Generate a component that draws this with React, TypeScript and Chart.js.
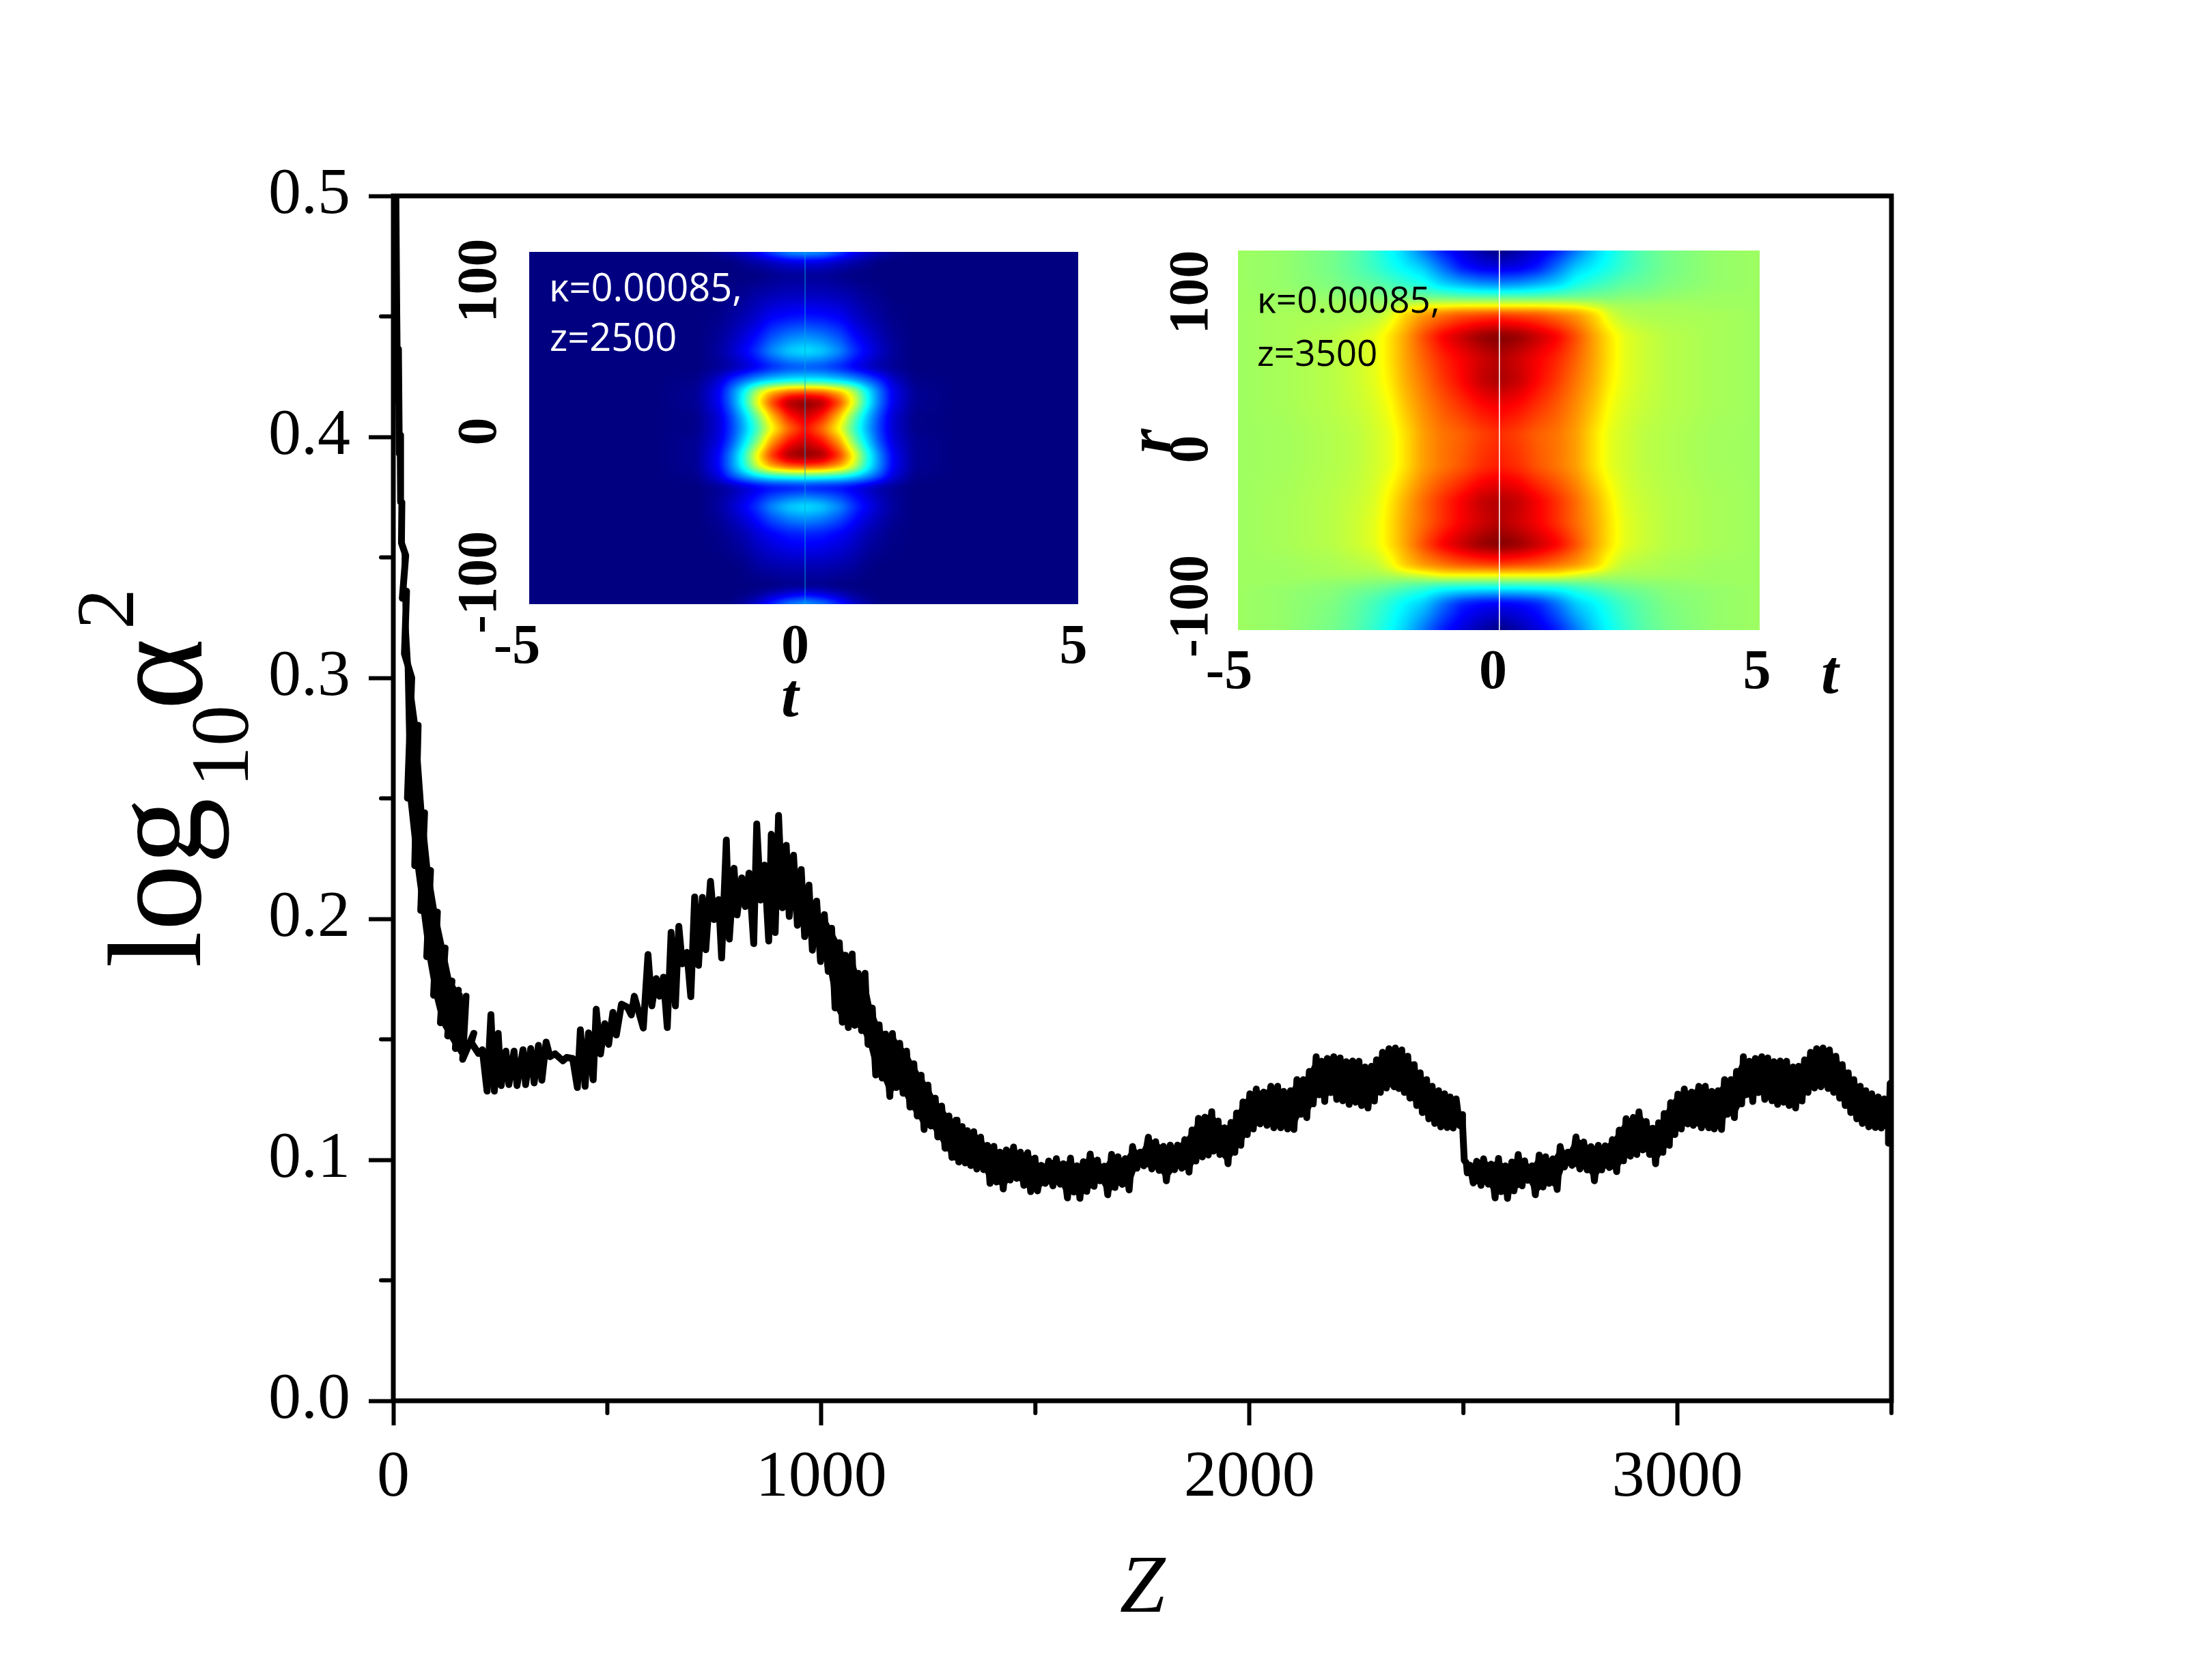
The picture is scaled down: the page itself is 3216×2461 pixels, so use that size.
import { useEffect, useRef } from "react"
import { Chart, registerables } from "chart.js"

Chart.register(...registerables)

const WIDTH = 3216
const HEIGHT = 2461
const SERIF = "'Liberation Serif'"

// main axes
const zTicks = [0, 1000, 2000, 3000]
const zMinorTicks = [500, 1500, 2500, 3500]
const alphaTicks = [0, 0.1, 0.2, 0.3, 0.4, 0.5]
const alphaMinorTicks = [0.05, 0.15, 0.25, 0.35, 0.45]

// z < 1320: the oscillation can be followed peak by peak
const earlyZ = [
  6, 8, 10, 12, 14, 16, 17, 20, 19, 29, 21, 31, 26, 43, 33, 58, 50, 73, 64, 87, 78, 103, 94, 121, 110, 137, 127, 152,
  145, 170, 162, 188, 182, 199, 208, 219, 228, 236, 245, 252, 263, 270, 282, 289, 303, 309, 321, 329, 339, 347, 357,
  366, 378, 396, 405, 414, 419, 430, 437, 448, 456, 467, 474, 484, 494, 503, 513, 521, 533, 547, 556, 563, 584, 595,
  604, 614, 622, 631, 640, 649, 659, 667, 675, 686, 695, 704, 713, 722, 730, 741, 749, 760, 767, 778, 785, 796, 803,
  814, 822, 831, 842, 849, 858, 867, 877, 883, 892, 900, 909, 918, 925, 935, 944, 953, 961, 971, 979, 989, 998, 1007,
  1016, 1024, 1032, 1042, 1049, 1056, 1063, 1072, 1078, 1086, 1094, 1102, 1109, 1119, 1127, 1135, 1142, 1150, 1160,
  1166, 1175, 1183, 1191, 1199, 1207, 1216, 1224, 1233, 1240, 1249, 1256, 1266, 1272, 1281, 1289, 1298, 1305, 1314,
]
const earlyAlpha = [
  0.5, 0.452, 0.415, 0.4365, 0.393, 0.4008, 0.373, 0.3728, 0.356, 0.3508, 0.333, 0.336, 0.31, 0.3, 0.2501, 0.2803,
  0.2221, 0.244, 0.2035, 0.2201, 0.1843, 0.2028, 0.1683, 0.1879, 0.1569, 0.1742, 0.1514, 0.1704, 0.1462, 0.1679,
  0.1417, 0.1525, 0.1487, 0.1441, 0.1457, 0.1285, 0.1603, 0.1285, 0.1525, 0.1308, 0.1451, 0.1312, 0.1451, 0.1308,
  0.1457, 0.1312, 0.1462, 0.1319, 0.1475, 0.133, 0.1489, 0.1428, 0.144, 0.1411, 0.1425, 0.1422, 0.1421, 0.13, 0.154,
  0.1305, 0.1527, 0.1332, 0.1625, 0.1439, 0.1565, 0.1479, 0.1612, 0.1518, 0.1646, 0.1633, 0.1601, 0.1679, 0.1547,
  0.1852, 0.1639, 0.1752, 0.1679, 0.1758, 0.1549, 0.1944, 0.1639, 0.1969, 0.1813, 0.1861, 0.1677, 0.2091, 0.1807,
  0.2089, 0.1872, 0.2156, 0.1997, 0.208, 0.1838, 0.2327, 0.1916, 0.221, 0.2016, 0.217, 0.2051, 0.219, 0.1897, 0.2394,
  0.2078, 0.2223, 0.1908, 0.2351, 0.1943, 0.2429, 0.2046, 0.2305, 0.201, 0.2264, 0.1973, 0.2205, 0.1926, 0.214, 0.187,
  0.2074, 0.1823, 0.2018, 0.1782, 0.1961, 0.163, 0.1901, 0.1571, 0.1849, 0.1549, 0.1854, 0.1558, 0.1774, 0.1536,
  0.1774, 0.1479, 0.163, 0.1352, 0.156, 0.1339, 0.1522, 0.1263, 0.1524, 0.13, 0.1484, 0.1276, 0.1451, 0.1219, 0.1399,
  0.1182, 0.1351, 0.1126, 0.131, 0.114, 0.1256, 0.1095, 0.1223, 0.1048, 0.1182, 0.101, 0.1164,
]
// stretches of the early curve where the reference is solid black between the tips
const solidRanges = [
  [8, 170],
  [998, 1314],
]

// z > 1314: too dense to separate, upper and lower edge of the band
const upperZ = [
  1314, 1317, 1329, 1341, 1356, 1372, 1388, 1403, 1417, 1432, 1449, 1465, 1482, 1499, 1514, 1531, 1549, 1565, 1582,
  1597, 1612, 1628, 1645, 1661, 1678, 1693, 1710, 1727, 1745, 1764, 1781, 1799, 1815, 1832, 1849, 1866, 1881, 1896,
  1912, 1927, 1942, 1957, 1970, 1985, 2001, 2016, 2033, 2050, 2066, 2080, 2096, 2111, 2126, 2140, 2156, 2169, 2182,
  2197, 2212, 2226, 2241, 2256, 2270, 2285, 2297, 2311, 2326, 2341, 2356, 2370, 2385, 2399, 2414, 2427, 2442, 2456,
  2469, 2483, 2497, 2507, 2516, 2531, 2547, 2565, 2582, 2598, 2613, 2628, 2643, 2660, 2677, 2692, 2709, 2726, 2744,
  2763, 2781, 2798, 2815, 2831, 2848, 2864, 2880, 2897, 2910, 2927, 2942, 2956, 2969, 2984, 3001, 3016, 3033, 3050,
  3065, 3080, 3095, 3110, 3125, 3138, 3154, 3168, 3182, 3197, 3211, 3225, 3240, 3255, 3270, 3283, 3297, 3311, 3325,
  3340, 3355, 3370, 3385, 3399, 3412, 3427, 3440, 3454, 3469, 3483, 3493, 3497, 3500,
]
const upperAlpha = [
  0.1164, 0.1164, 0.1138, 0.1121, 0.1117, 0.1094, 0.106, 0.1056, 0.1032, 0.1041, 0.1053, 0.1032, 0.103, 0.1007, 0.0977,
  0.0995, 0.1005, 0.0984, 0.1007, 0.0975, 0.0992, 0.1024, 0.0999, 0.0974, 0.1023, 0.1013, 0.1005, 0.1055, 0.1032,
  0.1094, 0.1075, 0.1056, 0.1061, 0.1061, 0.1084, 0.1124, 0.1172, 0.1177, 0.12, 0.1161, 0.1133, 0.1155, 0.1194, 0.124,
  0.1274, 0.1294, 0.1281, 0.1305, 0.1305, 0.1284, 0.1287, 0.1333, 0.1333, 0.1367, 0.1428, 0.1409, 0.1421, 0.1428,
  0.1423, 0.1407, 0.141, 0.1409, 0.1385, 0.1388, 0.1415, 0.1446, 0.1461, 0.1464, 0.1456, 0.143, 0.1395, 0.1361, 0.1333,
  0.1305, 0.1287, 0.1274, 0.1261, 0.1253, 0.1188, 0.0987, 0.0977, 0.0994, 0.1004, 0.0982, 0.1006, 0.0975, 0.0991,
  0.1022, 0.0996, 0.0975, 0.102, 0.1013, 0.1004, 0.1055, 0.1032, 0.1095, 0.1074, 0.1055, 0.106, 0.1058, 0.1084, 0.1123,
  0.1171, 0.1176, 0.1199, 0.1159, 0.1131, 0.1154, 0.1192, 0.1237, 0.1273, 0.1294, 0.1281, 0.1305, 0.1305, 0.1284,
  0.1287, 0.1333, 0.1333, 0.1367, 0.1428, 0.1409, 0.1421, 0.1428, 0.1423, 0.1407, 0.141, 0.1409, 0.1385, 0.1388, 0.1415,
  0.1446, 0.1461, 0.1464, 0.1456, 0.143, 0.1395, 0.1361, 0.1333, 0.1305, 0.1287, 0.1274, 0.1261, 0.1253, 0.1241, 0.1317,
  0.1317,
]
const lowerZ = [
  1314, 1321, 1336, 1349, 1363, 1379, 1394, 1409, 1425, 1441, 1456, 1473, 1489, 1505, 1523, 1541, 1558, 1575, 1590,
  1604, 1620, 1637, 1651, 1669, 1686, 1703, 1719, 1737, 1753, 1772, 1789, 1806, 1825, 1842, 1859, 1875, 1890, 1904,
  1916, 1931, 1950, 1966, 1980, 1995, 2009, 2025, 2041, 2057, 2073, 2089, 2104, 2120, 2134, 2149, 2163, 2176, 2190,
  2204, 2218, 2233, 2248, 2262, 2277, 2292, 2306, 2320, 2338, 2349, 2362, 2375, 2391, 2404, 2419, 2433, 2447, 2462,
  2476, 2491, 2498, 2502, 2509, 2523, 2541, 2558, 2574, 2588, 2603, 2618, 2637, 2650, 2668, 2686, 2700, 2719, 2736,
  2754, 2772, 2789, 2806, 2823, 2841, 2858, 2874, 2890, 2905, 2919, 2935, 2949, 2966, 2981, 2994, 3009, 3024, 3037,
  3056, 3073, 3086, 3103, 3117, 3133, 3150, 3160, 3176, 3189, 3204, 3221, 3234, 3248, 3261, 3276, 3291, 3305, 3320,
  3335, 3352, 3365, 3379, 3392, 3405, 3419, 3432, 3447, 3462, 3476, 3486, 3493, 3500,
]
const lowerAlpha = [
  0.101, 0.0991, 0.0987, 0.0976, 0.0962, 0.0959, 0.0902, 0.0908, 0.0879, 0.0916, 0.0923, 0.0894, 0.0868, 0.0871, 0.0902,
  0.0892, 0.0899, 0.0842, 0.0866, 0.084, 0.0869, 0.089, 0.0913, 0.0855, 0.0885, 0.0898, 0.0875, 0.0965, 0.0975, 0.0962,
  0.0956, 0.0913, 0.0959, 0.0965, 0.0949, 0.0995, 0.1012, 0.102, 0.1036, 0.1022, 0.0984, 0.1031, 0.106, 0.1105, 0.1128,
  0.1149, 0.1143, 0.1133, 0.1133, 0.1128, 0.1126, 0.1189, 0.1175, 0.1232, 0.127, 0.1242, 0.1279, 0.1251, 0.1245, 0.123,
  0.1239, 0.1225, 0.1215, 0.1244, 0.128, 0.1298, 0.1303, 0.1296, 0.128, 0.1256, 0.1225, 0.1196, 0.117, 0.1151, 0.1137,
  0.1134, 0.1132, 0.1142, 0.1145, 0.0998, 0.0946, 0.0904, 0.0894, 0.0899, 0.0842, 0.0868, 0.084, 0.0871, 0.0892, 0.0915,
  0.0855, 0.0887, 0.0902, 0.0877, 0.097, 0.0977, 0.0962, 0.0958, 0.0913, 0.0958, 0.0968, 0.0951, 0.0996, 0.1015, 0.1022,
  0.1041, 0.1022, 0.0984, 0.1031, 0.106, 0.1105, 0.1128, 0.1149, 0.1143, 0.1133, 0.1133, 0.1128, 0.1126, 0.1189, 0.1175,
  0.1232, 0.127, 0.1242, 0.1279, 0.1251, 0.1245, 0.123, 0.1239, 0.1225, 0.1215, 0.1244, 0.128, 0.1298, 0.1303, 0.1296,
  0.128, 0.1256, 0.1225, 0.1196, 0.117, 0.1151, 0.1137, 0.1134, 0.1132, 0.1142, 0.1069, 0.1069,
]

// insets: colour values 0..1 on the jet scale, mirrored around the centre line
const insetTTicks = [-5, 0, 5]
const insetRTicks = [100, 0, -100]

const leftOffsets = [0, 0.31, 0.63, 0.86, 1.1, 1.33, 1.57, 1.96, 2.75, 4.94]
const leftRows = [
  119.2, 112.7, 103.9, 90.7, 75.4, 53.4, 42.5, 33.7, 27.1, 19.5, 9.6, 1.9, -5.8, -15.7, -23.3, -29.9, -36.5, -49.6,
  -67.2, -89.1, -102.3, -108.9, -114.5,
]
const leftCells = [
  [0.3, 0.28, 0.2, 0.13, 0.08, 0.05, 0.02, 0, 0, 0],
  [0.1, 0.09, 0.06, 0.04, 0.02, 0, 0, 0, 0, 0],
  [0.02, 0.02, 0.01, 0, 0, 0, 0, 0, 0, 0],
  [0.06, 0.06, 0.05, 0.04, 0.02, 0.01, 0, 0, 0, 0],
  [0.15, 0.14, 0.12, 0.08, 0.05, 0.03, 0.01, 0, 0, 0],
  [0.36, 0.33, 0.26, 0.18, 0.12, 0.07, 0.03, 0, 0, 0],
  [0.2, 0.19, 0.15, 0.11, 0.07, 0.04, 0.02, 0, 0, 0],
  [0.38, 0.37, 0.34, 0.3, 0.24, 0.17, 0.08, 0.01, 0, 0],
  [0.78, 0.76, 0.68, 0.56, 0.38, 0.24, 0.11, 0.02, 0, 0],
  [1, 0.96, 0.8, 0.62, 0.4, 0.24, 0.11, 0.02, 0, 0],
  [0.92, 0.84, 0.66, 0.48, 0.32, 0.19, 0.08, 0.01, 0, 0],
  [0.86, 0.76, 0.6, 0.44, 0.3, 0.18, 0.08, 0.01, 0, 0],
  [0.92, 0.85, 0.7, 0.5, 0.34, 0.2, 0.09, 0.02, 0, 0],
  [1, 0.97, 0.82, 0.64, 0.42, 0.26, 0.12, 0.02, 0, 0],
  [0.8, 0.78, 0.7, 0.58, 0.4, 0.26, 0.12, 0.02, 0, 0],
  [0.4, 0.39, 0.37, 0.33, 0.27, 0.19, 0.09, 0.01, 0, 0],
  [0.14, 0.13, 0.12, 0.1, 0.07, 0.04, 0.02, 0, 0, 0],
  [0.36, 0.33, 0.26, 0.18, 0.12, 0.07, 0.03, 0, 0, 0],
  [0.16, 0.15, 0.12, 0.09, 0.05, 0.03, 0.01, 0, 0, 0],
  [0.05, 0.05, 0.04, 0.03, 0.01, 0, 0, 0, 0, 0],
  [0.01, 0.01, 0, 0, 0, 0, 0, 0, 0, 0],
  [0.15, 0.12, 0.07, 0.03, 0.01, 0, 0, 0, 0, 0],
  [0.3, 0.26, 0.17, 0.09, 0.04, 0.01, 0, 0, 0, 0],
]

const rightOffsets = [0, 0.36, 0.73, 1.09, 1.45, 1.81, 2.09, 2.36, 2.72, 3.18, 4.08, 4.95]
const rightRows = [
  126.5, 115.3, 104.8, 96.4, 91.1, 87, 72.2, 58.4, 43.7, 28.9, 10, -11.1, -32.2, -47, -60.7, -74.3, -79.6, -83.8,
  -89.1, -97.5, -115.2,
]
const rightCells = [
  [0, 0.04, 0.09, 0.15, 0.24, 0.33, 0.38, 0.42, 0.46, 0.49, 0.52, 0.53],
  [0.1, 0.11, 0.15, 0.24, 0.33, 0.37, 0.4, 0.43, 0.46, 0.49, 0.52, 0.53],
  [0.27, 0.28, 0.31, 0.34, 0.4, 0.43, 0.45, 0.47, 0.48, 0.5, 0.52, 0.53],
  [0.48, 0.48, 0.48, 0.49, 0.49, 0.5, 0.5, 0.51, 0.51, 0.52, 0.53, 0.53],
  [0.64, 0.64, 0.64, 0.63, 0.62, 0.58, 0.55, 0.54, 0.54, 0.54, 0.53, 0.53],
  [0.8, 0.79, 0.78, 0.75, 0.72, 0.66, 0.58, 0.55, 0.54, 0.54, 0.54, 0.53],
  [1, 0.98, 0.93, 0.88, 0.8, 0.71, 0.65, 0.6, 0.575, 0.555, 0.54, 0.53],
  [0.95, 0.92, 0.88, 0.84, 0.78, 0.71, 0.65, 0.6, 0.575, 0.555, 0.54, 0.53],
  [0.96, 0.93, 0.87, 0.82, 0.76, 0.7, 0.64, 0.6, 0.575, 0.555, 0.54, 0.53],
  [0.89, 0.87, 0.83, 0.79, 0.74, 0.68, 0.62, 0.59, 0.57, 0.555, 0.54, 0.53],
  [0.83, 0.81, 0.78, 0.76, 0.72, 0.65, 0.6, 0.58, 0.56, 0.55, 0.535, 0.53],
  [0.85, 0.83, 0.79, 0.76, 0.72, 0.65, 0.6, 0.58, 0.56, 0.55, 0.535, 0.53],
  [0.95, 0.93, 0.88, 0.83, 0.77, 0.7, 0.64, 0.59, 0.57, 0.555, 0.54, 0.53],
  [0.95, 0.92, 0.88, 0.83, 0.77, 0.71, 0.65, 0.6, 0.575, 0.555, 0.54, 0.53],
  [1, 0.98, 0.93, 0.88, 0.8, 0.71, 0.65, 0.6, 0.575, 0.555, 0.54, 0.53],
  [0.8, 0.79, 0.78, 0.75, 0.72, 0.67, 0.6, 0.56, 0.55, 0.54, 0.53, 0.53],
  [0.64, 0.64, 0.64, 0.64, 0.6, 0.57, 0.55, 0.54, 0.54, 0.54, 0.53, 0.53],
  [0.5, 0.5, 0.5, 0.5, 0.5, 0.5, 0.51, 0.51, 0.52, 0.52, 0.53, 0.53],
  [0.35, 0.35, 0.36, 0.37, 0.41, 0.44, 0.46, 0.48, 0.49, 0.51, 0.52, 0.53],
  [0.12, 0.13, 0.16, 0.24, 0.33, 0.37, 0.41, 0.44, 0.47, 0.5, 0.52, 0.53],
  [0, 0.04, 0.09, 0.15, 0.24, 0.33, 0.38, 0.42, 0.46, 0.49, 0.52, 0.53],
]

const zip = (xs: number[], ys: number[]) => xs.map((x, i) => ({ x, y: ys[i] }))

type Label = { text: string; x: number; y: number; font: string; color?: string; rotate?: boolean }

// free text: axis names and the notes inside the insets
const textPlugin = {
  id: "freeText",
  afterDraw(chart: any, _args: any, opts: any) {
    const ctx = chart.ctx
    for (const l of (opts.labels || []) as Label[]) {
      ctx.save()
      ctx.translate(l.x, l.y)
      if (l.rotate) ctx.rotate(-Math.PI / 2)
      ctx.font = l.font
      ctx.fillStyle = l.color || "#000"
      ctx.textAlign = "left"
      ctx.textBaseline = "alphabetic"
      ctx.fillText(l.text, 0, 0)
      ctx.restore()
    }
  },
}

const framePlugin = {
  id: "frame",
  afterDatasetsDraw(chart: any) {
    const { ctx, chartArea: a, scales } = chart
    ctx.save()
    ctx.strokeStyle = "#000"
    ctx.lineWidth = 7
    ctx.strokeRect(a.left, a.top, a.right - a.left, a.bottom - a.top)
    ctx.lineWidth = 6
    ctx.lineCap = "round"
    ctx.beginPath()
    for (const z of zMinorTicks) {
      const x = scales.x.getPixelForValue(z)
      ctx.moveTo(x, a.bottom)
      ctx.lineTo(x, a.bottom + 18)
    }
    for (const v of alphaMinorTicks) {
      const y = scales.y.getPixelForValue(v)
      ctx.moveTo(a.left, y)
      ctx.lineTo(a.left - 18, y)
    }
    ctx.stroke()
    ctx.restore()
  },
}

function jet(v: number) {
  const c = (x: number) => Math.max(0, Math.min(1, x)) * 255
  return [c(1.5 - Math.abs(4 * v - 3)), c(1.5 - Math.abs(4 * v - 2)), c(1.5 - Math.abs(4 * v - 1))]
}

function locate(axis: number[], v: number) {
  const desc = axis[0] > axis[axis.length - 1]
  for (let i = 0; i < axis.length - 1; i++) {
    const a = axis[i]
    const b = axis[i + 1]
    if (desc ? v >= b : v <= b) return [i, Math.max(0, Math.min(1, (v - a) / (b - a)))]
  }
  return [axis.length - 2, 1]
}

// soften the creases of the coarse table
function blur(field: Float32Array, w: number, h: number, radius: number) {
  const tmp = new Float32Array(field.length)
  for (let y = 0; y < h; y++)
    for (let x = 0; x < w; x++) {
      let sum = 0
      for (let k = -radius; k <= radius; k++) sum += field[y * w + Math.max(0, Math.min(w - 1, x + k))]
      tmp[y * w + x] = sum / (2 * radius + 1)
    }
  for (let y = 0; y < h; y++)
    for (let x = 0; x < w; x++) {
      let sum = 0
      for (let k = -radius; k <= radius; k++) sum += tmp[Math.max(0, Math.min(h - 1, y + k)) * w + x]
      field[y * w + x] = sum / (2 * radius + 1)
    }
}

const heatPlugin = {
  id: "heat",
  beforeDatasetsDraw(chart: any, _args: any, opts: any) {
    const { ctx, scales } = chart
    const { extent, center, offsets, rows, cells, lineColor } = opts
    const x0 = Math.round(scales.x.getPixelForValue(extent[0]))
    const x1 = Math.round(scales.x.getPixelForValue(extent[1]))
    const y0 = Math.round(scales.y.getPixelForValue(extent[2]))
    const y1 = Math.round(scales.y.getPixelForValue(extent[3]))
    const w = x1 - x0
    const h = y1 - y0
    const field = new Float32Array(w * h)
    for (let py = 0; py < h; py++) {
      const [ri, rf] = locate(rows, scales.y.getValueForPixel(y0 + py))
      for (let px = 0; px < w; px++) {
        const t = Math.abs(scales.x.getValueForPixel(x0 + px) - center)
        const [ci, cf] = locate(offsets, t)
        const top = cells[ri][ci] * (1 - cf) + cells[ri][ci + 1] * cf
        const bot = cells[ri + 1][ci] * (1 - cf) + cells[ri + 1][ci + 1] * cf
        field[py * w + px] = top * (1 - rf) + bot * rf
      }
    }
    blur(field, w, h, 5)
    blur(field, w, h, 4)
    const img = ctx.createImageData(w, h)
    for (let i = 0; i < field.length; i++) {
      const [r, g, b] = jet(field[i])
      img.data[i * 4] = r
      img.data[i * 4 + 1] = g
      img.data[i * 4 + 2] = b
      img.data[i * 4 + 3] = 255
    }
    ctx.putImageData(img, x0, y0)
    const cx = scales.x.getPixelForValue(center)
    ctx.save()
    ctx.strokeStyle = lineColor
    ctx.lineWidth = 1.5
    ctx.beginPath()
    ctx.moveTo(cx, y0)
    ctx.lineTo(cx, y1)
    ctx.stroke()
    ctx.restore()
  },
}

type InsetSetup = {
  left: number
  right: number
  top: number
  bottom: number
  yPadding: number
  xPadding: number
  heat: any
  labels: Label[]
}

function insetConfig(s: InsetSetup): any {
  const tickFont = { family: SERIF, size: 82, weight: "bold" }
  return {
    type: "scatter",
    data: { datasets: [{ data: [], showLine: false }] },
    plugins: [heatPlugin, textPlugin],
    options: {
      animation: false,
      responsive: false,
      devicePixelRatio: 1,
      layout: { padding: { left: 0, top: s.top, right: WIDTH - s.right, bottom: 0 } },
      plugins: {
        legend: { display: false },
        tooltip: { enabled: false },
        heat: s.heat,
        freeText: { labels: s.labels },
      },
      scales: {
        x: {
          type: "linear",
          min: -5,
          max: 5,
          afterBuildTicks: (scale: any) => {
            scale.ticks = insetTTicks.map((value) => ({ value }))
          },
          afterFit: (scale: any) => {
            scale.height = HEIGHT - s.bottom
          },
          grid: { display: false, drawTicks: false },
          border: { display: false },
          ticks: { color: "#000", font: tickFont, padding: s.xPadding, autoSkip: false, maxRotation: 0 },
        },
        y: {
          type: "linear",
          min: -100,
          max: 100,
          afterBuildTicks: (scale: any) => {
            scale.ticks = insetRTicks.map((value) => ({ value }))
          },
          afterFit: (scale: any) => {
            scale.width = s.left
          },
          grid: { display: false, drawTicks: false },
          border: { display: false },
          ticks: {
            color: "#000",
            font: tickFont,
            padding: s.yPadding,
            autoSkip: false,
            minRotation: 90,
            maxRotation: 90,
            crossAlign: "center",
          },
        },
      },
    },
  }
}

const canvasStyle: any = { position: "absolute", left: 0, top: 0, display: "block" }

export default function App() {
  const mainRef = useRef<HTMLCanvasElement>(null)
  const leftRef = useRef<HTMLCanvasElement>(null)
  const rightRef = useRef<HTMLCanvasElement>(null)

  useEffect(() => {
    document.body.style.margin = "0"
    if (!mainRef.current || !leftRef.current || !rightRef.current) return

    const lineStyle = {
      showLine: true,
      pointRadius: 0,
      borderColor: "#000",
      borderWidth: 10,
      borderJoinStyle: "round",
      borderCapStyle: "round",
      tension: 0,
    }
    const edgeStyle = {
      showLine: true,
      pointRadius: 0,
      borderColor: "transparent",
      borderWidth: 1,
      backgroundColor: "#000",
      tension: 0,
    }

    // the band is a zigzag between its two edges, filled so that only shallow notches stay
    const early = zip(earlyZ, earlyAlpha)
    const upper = zip(upperZ, upperAlpha)
    const lower = zip(lowerZ, lowerAlpha)
    const zigzag = [...early, ...[...upper, ...lower].sort((a, b) => a.x - b.x)]

    // in the early curve tips alternate, so every other point belongs to the same edge
    const solidEdges = solidRanges.flatMap(([from, to]) => {
      const part = early.filter((p) => p.x >= from && p.x <= to)
      return [
        { ...edgeStyle, data: part.filter((_, i) => i % 2 === 0), fill: "+1" },
        { ...edgeStyle, data: part.filter((_, i) => i % 2 === 1) },
      ]
    })

    const main = new Chart(mainRef.current, {
      type: "scatter",
      data: {
        datasets: [
          ...solidEdges,
          { ...edgeStyle, data: upper, fill: "+1" },
          { ...edgeStyle, data: lower },
          { ...lineStyle, data: zigzag },
        ],
      },
      plugins: [framePlugin, textPlugin],
      options: {
        animation: false,
        responsive: false,
        devicePixelRatio: 1,
        layout: { padding: { left: 0, top: 287, right: WIDTH - 2770, bottom: 0 } },
        plugins: {
          legend: { display: false },
          tooltip: { enabled: false },
          freeText: {
            labels: [
              { text: "log", x: 293, y: 1418, font: `195px ${SERIF}`, rotate: true },
              { text: "10", x: 363, y: 1153, font: `120px ${SERIF}`, rotate: true },
              { text: "α", x: 295, y: 1040, font: `200px ${SERIF}`, rotate: true },
              { text: "2", x: 195, y: 922, font: `120px ${SERIF}`, rotate: true },
            ],
          },
        },
        scales: {
          x: {
            type: "linear",
            min: 0,
            max: 3500,
            afterBuildTicks: (scale: any) => {
              scale.ticks = zTicks.map((value) => ({ value }))
            },
            afterFit: (scale: any) => {
              scale.height = HEIGHT - 2052
            },
            grid: { drawOnChartArea: false, tickLength: 36, tickWidth: 6, tickColor: "#000" },
            border: { display: false },
            ticks: {
              color: "#000",
              font: { family: SERIF, size: 96 },
              padding: 20,
              autoSkip: false,
              maxRotation: 0,
              callback: (v: any) => String(v),
            },
            title: {
              display: true,
              text: "Z",
              color: "#000",
              font: { family: SERIF, size: 120, style: "italic" },
              padding: { top: 0, bottom: 60 },
            },
          },
          y: {
            type: "linear",
            min: 0,
            max: 0.5,
            afterBuildTicks: (scale: any) => {
              scale.ticks = alphaTicks.map((value) => ({ value }))
            },
            afterFit: (scale: any) => {
              scale.width = 576
            },
            grid: { drawOnChartArea: false, tickLength: 36, tickWidth: 6, tickColor: "#000" },
            border: { display: false },
            ticks: {
              color: "#000",
              font: { family: SERIF, size: 96 },
              padding: 27,
              autoSkip: false,
              callback: (v: any) => Number(v).toFixed(1),
            },
          },
        },
      },
    } as any)

    const sans = "'Open Sans'"
    const left = new Chart(
      leftRef.current,
      insetConfig({
        left: 757,
        right: 1572,
        top: 411,
        bottom: 853,
        yPadding: -23,
        xPadding: 48,
        heat: {
          extent: [-4.78, 5.09, 119.2, -114.5],
          center: 0.178,
          offsets: leftOffsets,
          rows: leftRows,
          cells: leftCells,
          lineColor: "rgba(0,170,220,0.6)",
        },
        labels: [
          { text: "κ=0.00085,", x: 804, y: 441, font: `56px ${sans}`, color: "#fff" },
          { text: "z=2500", x: 805, y: 514, font: `56px ${sans}`, color: "#fff" },
          { text: "t", x: 1144, y: 1049, font: `italic bold 92px ${SERIF}` },
        ],
      })
    )
    const right = new Chart(
      rightRef.current,
      insetConfig({
        left: 1800,
        right: 2573,
        top: 428,
        bottom: 888,
        yPadding: -22,
        xPadding: 50,
        heat: {
          extent: [-4.83, 5.05, 126.5, -115.2],
          center: 0.12,
          offsets: rightOffsets,
          rows: rightRows,
          cells: rightCells,
          lineColor: "#fff",
        },
        labels: [
          { text: "κ=0.00085,", x: 1841, y: 458, font: `53px ${sans}` },
          { text: "z=3500", x: 1841, y: 536, font: `53px ${sans}` },
          { text: "t", x: 2667, y: 1015, font: `italic bold 92px ${SERIF}` },
          { text: "r", x: 1714, y: 664, font: `italic bold 92px ${SERIF}`, rotate: true },
        ],
      })
    )

    return () => {
      main.destroy()
      left.destroy()
      right.destroy()
    }
  }, [])

  return (
    <div style={{ position: "relative", width: WIDTH, height: HEIGHT, background: "#fff" }}>
      <canvas ref={mainRef} width={WIDTH} height={HEIGHT} style={canvasStyle}></canvas>
      <canvas ref={leftRef} width={WIDTH} height={HEIGHT} style={canvasStyle}></canvas>
      <canvas ref={rightRef} width={WIDTH} height={HEIGHT} style={canvasStyle}></canvas>
    </div>
  )
}
